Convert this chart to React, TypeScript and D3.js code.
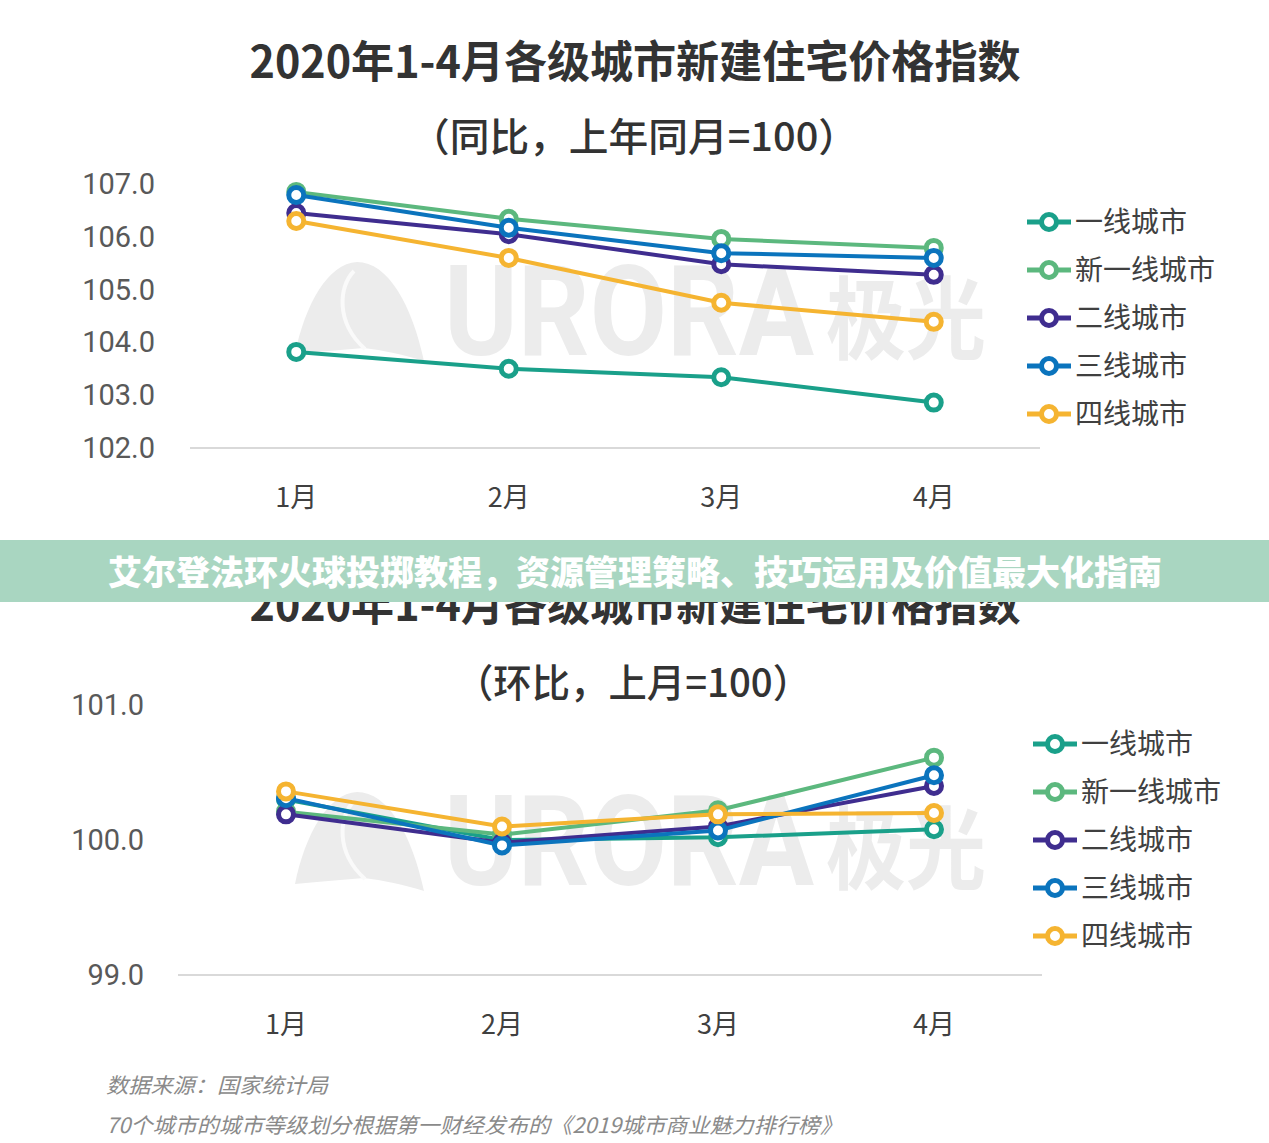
import React from "react";
import * as d3 from "d3";

const months = ["1月", "2月", "3月", "4月"];
const seriesNames = ["一线城市", "新一线城市", "二线城市", "三线城市", "四线城市"];
const seriesColors = ["#1aa08a", "#5cb87e", "#3f2d8f", "#0b74bd", "#f5b431"];

// 同比
const yoyTier1 = [103.82, 103.5, 103.34, 102.86];
const yoyNewTier1 = [106.85, 106.34, 105.96, 105.79];
const yoyTier2 = [106.45, 106.05, 105.48, 105.28];
const yoyTier3 = [106.79, 106.17, 105.69, 105.6];
const yoyTier4 = [106.3, 105.6, 104.75, 104.39];
const yoyTicks = [102, 103, 104, 105, 106, 107];

// 环比
const momTier1 = [100.3, 100.0, 100.02, 100.08];
const momNewTier1 = [100.21, 100.04, 100.22, 100.61];
const momTier2 = [100.19, 99.98, 100.1, 100.4];
const momTier3 = [100.31, 99.96, 100.07, 100.48];
const momTier4 = [100.36, 100.1, 100.19, 100.2];
const momTicks = [99, 100, 101];

const CJK = "'Noto Sans CJK SC', 'Noto Sans', sans-serif";
const NUM = "Roboto, 'Noto Sans', sans-serif";

function Watermark({ dy }: { dy: number }) {
  return (
    <g transform={`translate(0,${dy})`} fill="#ececec">
      <path d="M295,354 C305,305 328,263 357,262 C388,262 412,305 424,361 C405,355 382,350 364,348 C340,350 316,352 295,354 Z" />
      <path d="M354,271 C339,286 335,322 365,349" fill="none" stroke="#fafafa" strokeWidth={4} />
      <text x={444} y={355} fontFamily={NUM} fontWeight={700} fontSize={126} textLength={370} lengthAdjust="spacingAndGlyphs">URORA</text>
      <text x={826} y={352} fontFamily={CJK} fontWeight={700} fontSize={90} textLength={160} lengthAdjust="spacingAndGlyphs">极光</text>
    </g>
  );
}

type ChartProps = {
  data: number[][];
  ticks: number[];
  xRange: [number, number];
  yRange: [number, number];
  tickX: number;
  xLabelY: number;
  legendX: number;
  legendY: number;
};

function Chart({ data, ticks, xRange, yRange, tickX, xLabelY, legendX, legendY }: ChartProps) {
  const x = d3.scalePoint<string>().domain(months).range(xRange).padding(0.5);
  const y = d3.scaleLinear().domain([ticks[0], ticks[ticks.length - 1]]).range(yRange);
  const line = d3
    .line<number>()
    .x((_, i) => x(months[i]) as number)
    .y((v) => y(v));
  return (
    <g>
      <line x1={xRange[0]} x2={xRange[1]} y1={y(ticks[0])} y2={y(ticks[0])} stroke="#d9d9d9" strokeWidth={2} />
      {ticks.map((t) => (
        <text key={t} x={tickX} y={y(t) + 10} textAnchor="end" fontFamily={NUM} fontSize={29} fill="#595959">
          {d3.format(".1f")(t)}
        </text>
      ))}
      {months.map((m) => (
        <text key={m} x={x(m)} y={xLabelY} textAnchor="middle" fontFamily={CJK} fontSize={27} fill="#404040">
          {m}
        </text>
      ))}
      {data.map((s, si) => (
        <g key={si}>
          <path d={line(s) || ""} fill="none" stroke={seriesColors[si]} strokeWidth={4} />
          {s.map((v, i) => (
            <circle key={i} cx={x(months[i])} cy={y(v)} r={7.5} fill="#fff" stroke={seriesColors[si]} strokeWidth={5} />
          ))}
        </g>
      ))}
      {seriesNames.map((n, i) => (
        <g key={n} transform={`translate(${legendX},${legendY + i * 48})`}>
          <line x1={0} x2={44} y1={0} y2={0} stroke={seriesColors[i]} strokeWidth={5} />
          <circle cx={22} cy={0} r={7.5} fill="#fff" stroke={seriesColors[i]} strokeWidth={5} />
          <text x={48} y={10} fontFamily={CJK} fontSize={28} fill="#404040">
            {n}
          </text>
        </g>
      ))}
    </g>
  );
}

export default function App() {
  const yoy = [yoyTier1, yoyNewTier1, yoyTier2, yoyTier3, yoyTier4];
  const mom = [momTier1, momNewTier1, momTier2, momTier3, momTier4];
  return (
    <svg width={1269} height={1143} style={{ position: "absolute", left: 0, top: 0, background: "#fff" }}>
      <rect x={0} y={0} width={1269} height={1143} fill="#fff" />
      <Watermark dy={0} />
      <Watermark dy={530} />
      <text x={635} y={78} textAnchor="middle" fontFamily={CJK} fontWeight={700} fontSize={44} fill="#333" textLength={771} lengthAdjust="spacingAndGlyphs">
        2020年1-4月各级城市新建住宅价格指数
      </text>
      <text x={634} y={151} textAnchor="middle" fontFamily={CJK} fontWeight={500} fontSize={39} fill="#333" textLength={448} lengthAdjust="spacingAndGlyphs">
        （同比，上年同月=100）
      </text>
      <Chart data={yoy} ticks={yoyTicks} xRange={[190, 1040]} yRange={[448, 184]} tickX={155} xLabelY={507} legendX={1027} legendY={222} />

      <text x={635} y={621} textAnchor="middle" fontFamily={CJK} fontWeight={700} fontSize={44} fill="#333" textLength={771} lengthAdjust="spacingAndGlyphs">
        2020年1-4月各级城市新建住宅价格指数
      </text>
      <text x={633} y={697} textAnchor="middle" fontFamily={CJK} fontWeight={500} fontSize={39} fill="#333" textLength={356} lengthAdjust="spacingAndGlyphs">
        （环比，上月=100）
      </text>
      <Chart data={mom} ticks={momTicks} xRange={[178, 1042]} yRange={[975, 705]} tickX={144} xLabelY={1034} legendX={1033} legendY={744} />

      <rect x={0} y={540} width={1269} height={62} fill="#a9d6c1" />
      <text x={635} y={585} textAnchor="middle" fontFamily={CJK} fontWeight={900} fontSize={34} fill="#fff" textLength={1054} lengthAdjust="spacingAndGlyphs">
        艾尔登法环火球投掷教程，资源管理策略、技巧运用及价值最大化指南
      </text>

      <text x={106} y={1093} fontFamily={CJK} fontStyle="italic" fontSize={21} fill="#8a8a8a" textLength={222} lengthAdjust="spacingAndGlyphs">
        数据来源：国家统计局
      </text>
      <text x={106} y={1133} fontFamily={CJK} fontStyle="italic" fontSize={21} fill="#8a8a8a" textLength={736} lengthAdjust="spacingAndGlyphs">
        70个城市的城市等级划分根据第一财经发布的《2019城市商业魅力排行榜》
      </text>
    </svg>
  );
}
